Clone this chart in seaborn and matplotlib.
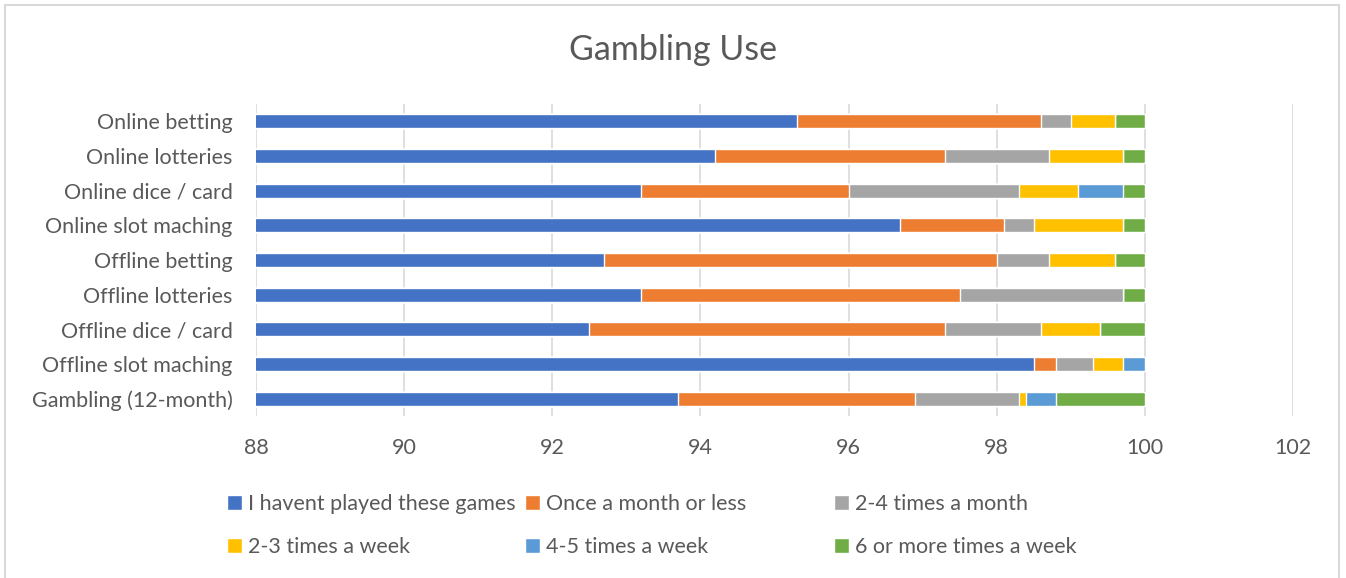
import numpy as np
import pandas as pd
import matplotlib
matplotlib.use('Agg')
import matplotlib.pyplot as plt
from matplotlib.patches import Rectangle, Patch
import seaborn as sns

# categories, top to bottom
games = ['Online betting', 'Online lotteries', 'Online dice / card', 'Online slot maching',
         'Offline betting', 'Offline lotteries', 'Offline dice / card', 'Offline slot maching',
         'Gambling (12-month)']

# percentages per answer
never      = [95.3, 94.2, 93.2, 96.7, 92.7, 93.2, 92.5, 98.5, 93.7]
monthly    = [3.3, 3.1, 2.8, 1.4, 5.3, 4.3, 4.8, 0.3, 3.2]
two_four_m = [0.4, 1.4, 2.3, 0.4, 0.7, 2.2, 1.3, 0.5, 1.4]
two_three_w = [0.6, 1.0, 0.8, 1.2, 0.9, 0.0, 0.8, 0.4, 0.1]
four_five_w = [0.0, 0.0, 0.6, 0.0, 0.0, 0.0, 0.0, 0.3, 0.4]
six_plus_w = [0.4, 0.3, 0.3, 0.3, 0.4, 0.3, 0.6, 0.0, 1.2]

answers = ['I havent played these games', 'Once a month or less', '2-4 times a month',
           '2-3 times a week', '4-5 times a week', '6 or more times a week']
colors = ['#4472C4', '#ED7D31', '#A5A5A5', '#FFC000', '#5B9BD5', '#70AD47']

df = pd.DataFrame({'game': games, answers[0]: never, answers[1]: monthly,
                   answers[2]: two_four_m, answers[3]: two_three_w,
                   answers[4]: four_five_w, answers[5]: six_plus_w})
cum = df[answers].cumsum(axis=1)

sns.set_style('white')
plt.rcParams['font.family'] = ['Lato', 'DejaVu Sans']
text_col = '#595959'

fig = plt.figure(figsize=(13.46, 5.78), dpi=100)
ax = fig.add_axes([256 / 1346, 1 - 416 / 578, (1293 - 256) / 1346, (416 - 104) / 578])

# stacked bars: draw cumulative totals from the largest down
for ans, col in reversed(list(zip(answers, colors))):
    sns.barplot(x=cum[ans], y=df['game'], orient='h', color=col, width=0.4,
                saturation=1, ax=ax, zorder=3)

ax.set_xlim(88, 102)
ax.set_xticks(np.arange(88, 103, 2))
ax.grid(axis='x', color='#D9D9D9', linewidth=1.2, zorder=0)
ax.grid(axis='y', visible=False)
for s in ax.spines.values():
    s.set_visible(False)
ax.set_xlabel('')
ax.set_ylabel('')
ax.tick_params(axis='x', length=0, pad=16, labelsize=15.5, labelcolor=text_col)
ax.tick_params(axis='y', length=0, pad=17, labelsize=15.5, labelcolor=text_col)

fig.text(0.5, 1 - 50 / 578, 'Gambling Use', ha='center', va='center',
         fontsize=24.5, color=text_col)

# legend: three columns placed like the original (row-wise order)
col_x = [216, 514, 823]
for k, x in enumerate(col_x):
    hs = [Patch(facecolor=colors[k], label=answers[k]),
          Patch(facecolor=colors[k + 3], label=answers[k + 3])]
    fig.legend(handles=hs, loc='upper left', bbox_to_anchor=(x / 1346, 1 - 483 / 578),
               frameon=False, fontsize=15.5, labelcolor=text_col,
               handlelength=0.7, handleheight=0.7, handletextpad=0.3,
               labelspacing=1.1, borderpad=0)

fig.patches.append(Rectangle((5 / 1346, -0.01), (1339 - 5) / 1346, 1.01 - 5 / 578,
                             transform=fig.transFigure, fill=False,
                             edgecolor='#D9D9D9', linewidth=1.5))

fig.savefig('out.png', dpi=100)
